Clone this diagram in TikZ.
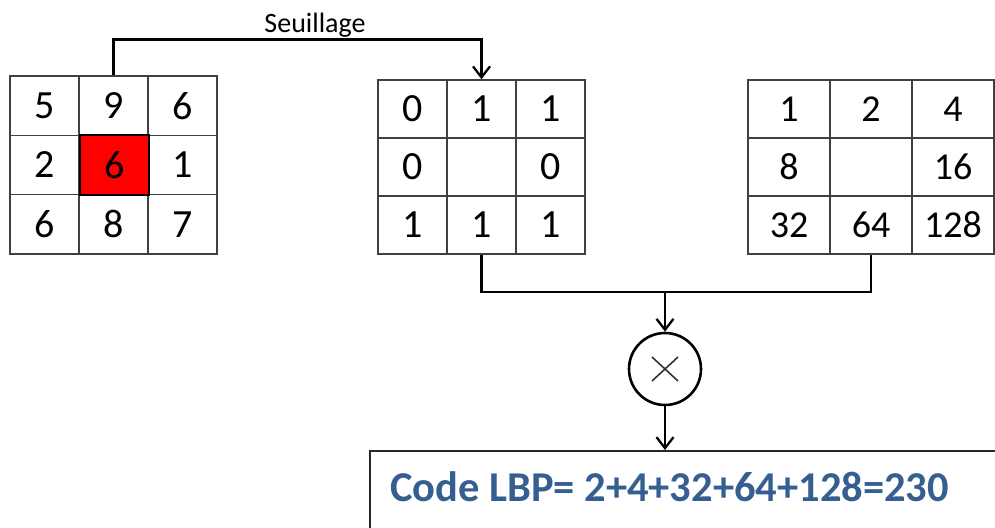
\documentclass[tikz,border=0pt]{standalone}
\usepackage{fontspec}
\setmainfont{Carlito}
\usetikzlibrary{arrows.meta}
\definecolor{lbpblue}{HTML}{365F91}
\begin{document}
\begin{tikzpicture}[x=1pt,y=-1pt,
  cell/.style={draw=black!75, line width=1.5pt, inner sep=0pt,
    font=\fontsize{40}{40}\selectfont},
  cellL/.style={cell, minimum width=69pt, minimum height=59.3pt},
  cellM/.style={cell, minimum width=69pt, minimum height=58pt},
  cellR/.style={cell, minimum width=82pt, minimum height=58pt,
    font=\fontsize{38}{38}\selectfont},
  link/.style={line width=2.6pt, line join=miter},
  arr/.style={link, -{Straight Barb[length=11pt,width=17pt,line width=2.3pt]}},
]
\useasboundingbox (0,0) rectangle (995,527);
\clip (0,0) rectangle (995,527);

% input neighbourhood
\foreach \r/\c/\v in {1/1/5,1/2/9,1/3/6,2/1/2,2/2/,2/3/1,3/1/6,3/2/8,3/3/7}
  \node[cellL] (L\r\c) at ({10+69*\c-34.5},{76+59.3*\r-29.65}) {\v};
\node[cellL, fill=red, draw=black, line width=2pt] (L22) at (114.5,164.95) {6};

% thresholded neighbourhood
\foreach \r/\c/\v in {1/1/0,1/2/1,1/3/1,2/1/0,2/2/,2/3/0,3/1/1,3/2/1,3/3/1}
  \node[cellM] (M\r\c) at ({378+69*\c-34.5},{80+58*\r-29}) {\v};

% binomial weights
\foreach \r/\c/\v in {1/1/1,1/2/2,1/3/4,2/1/8,2/2/,2/3/16,3/1/32,3/2/64,3/3/128}
  \node[cellR] (R\r\c) at ({748+82*\c-41},{80+58*\r-29}) {\v};

% thresholding step
\draw[arr] (L12.north) -- ++(0,-36) -| (M12.north);
\node[font=\fontsize{28}{28}\selectfont, anchor=base] (seuil) at (315,33) {Seuillage};

% product and sum
\coordinate (bus) at (665,292);
\draw[link] (M32.south) |- (bus) -| (R32.south);
\node[draw, circle, line width=2.6pt, minimum size=72pt, inner sep=0pt] (mul) at (665,369) {};
\draw[line width=1.6pt, black!80] ([shift={(-13,-12)}]mul.center) -- ([shift={(13,12)}]mul.center)
  ([shift={(-13,12)}]mul.center) -- ([shift={(13,-12)}]mul.center);
\draw[arr] (bus) -- (mul.north);

% result
\node[draw=black!85, line width=1.6pt, anchor=north west, minimum width=660pt,
  minimum height=120pt, inner sep=0pt] (res) at (369,450) {};
\node[font=\bfseries\fontsize{42.5}{42.5}\selectfont, text=lbpblue, anchor=base west,
  inner sep=0pt] (code) at (390,501) {Code LBP= 2+4+32+64+128=230};
\draw[arr] (mul.south) -- (mul.south |- res.north);
\end{tikzpicture}
\end{document}
